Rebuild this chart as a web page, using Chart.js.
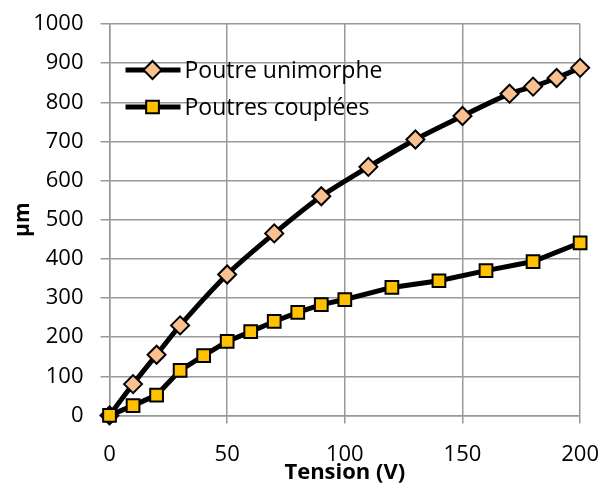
<!DOCTYPE html>
<html>
<head>
<meta charset="utf-8">
<script src="https://cdn.jsdelivr.net/npm/chart.js@4"></script>
<style>
  html, body { margin: 0; padding: 0; background: #fff; }
  #wrap { width: 602px; height: 486px; }
</style>
</head>
<body>
<div id="wrap"><canvas id="graphique"></canvas></div>
<script>
// Données
const tensionUni = [0, 10, 20, 30, 50, 70, 90, 110, 130, 150, 170, 180, 190, 200]
const unimorphe = [0, 80, 155, 230, 360, 465, 560, 635, 705, 765, 822, 840, 862, 888]

const tensionCpl = [0, 10, 20, 30, 40, 50, 60, 70, 80, 90, 100, 120, 140, 160, 180, 200]
const couplees = [0, 25, 52, 115, 153, 189, 214, 240, 263, 283, 296, 327, 344, 370, 393, 441]

const nomsSeries = ['Poutre unimorphe', 'Poutres couplées']

Chart.defaults.font.family = "'Open Sans', sans-serif"
Chart.defaults.font.size = 22
Chart.defaults.color = '#000'

const points = (xs, ys) => xs.map((x, i) => ({ x, y: ys[i] }))

// légende dessinée dans la zone du graphique
const legendeInterne = {
  id: 'legendeInterne',
  afterDatasetsDraw(chart) {
    const ctx = chart.ctx
    const area = chart.chartArea
    const ordre = [1, 0]
    ordre.forEach((idx, row) => {
      const ds = chart.data.datasets[idx]
      const y = area.top + 46 + row * 37
      const x0 = area.left + 16
      ctx.save()
      ctx.strokeStyle = '#000'
      ctx.lineWidth = 5
      ctx.beginPath()
      ctx.moveTo(x0, y)
      ctx.lineTo(x0 + 55, y)
      ctx.stroke()
      ctx.fillStyle = ds.pointBackgroundColor
      ctx.strokeStyle = '#000'
      ctx.lineWidth = ds.pointBorderWidth
      Chart.helpers.drawPoint(ctx, { pointStyle: ds.pointStyle, radius: ds.pointRadius, borderWidth: ds.pointBorderWidth }, x0 + 27, y)
      ctx.fillStyle = '#000'
      ctx.font = "23px 'Open Sans', sans-serif"
      ctx.textBaseline = 'middle'
      ctx.fillText(ds.label, x0 + 59, y + 1)
      ctx.restore()
    })
  }
}

const ctx = document.getElementById('graphique')

new Chart(ctx, {
  type: 'scatter',
  data: {
    datasets: [
      {
        label: nomsSeries[1],
        data: points(tensionCpl, couplees),
        showLine: true,
        clip: false,
        borderColor: '#000',
        borderWidth: 5,
        pointStyle: 'rect',
        pointRadius: 9,
        pointHoverRadius: 9,
        pointBackgroundColor: '#FFC000',
        pointBorderColor: '#000',
        pointBorderWidth: 2
      },
      {
        label: nomsSeries[0],
        data: points(tensionUni, unimorphe),
        showLine: true,
        clip: false,
        borderColor: '#000',
        borderWidth: 5,
        tension: 0.2,
        pointStyle: 'rectRot',
        pointRadius: 9,
        pointHoverRadius: 9,
        pointBackgroundColor: '#FAC090',
        pointBorderColor: '#000',
        pointBorderWidth: 2
      }
    ]
  },
  options: {
    responsive: true,
    maintainAspectRatio: false,
    animation: false,
    layout: { padding: { top: 24, right: 0, left: 0, bottom: 0 } },
    plugins: {
      legend: { display: false },
      tooltip: { enabled: false }
    },
    scales: {
      x: {
        type: 'linear',
        min: 0,
        max: 200,
        ticks: { stepSize: 50, padding: 3, font: { lineHeight: 2.6 } },
        grid: { color: '#999', lineWidth: 1.5, tickLength: 8 },
        border: { color: '#999', width: 1.5 },
        title: {
          display: true,
          text: 'Tension (V)',
          font: { size: 22, weight: 'bold' },
          padding: { top: -27, bottom: 0 }
        }
      },
      y: {
        min: 0,
        max: 1000,
        ticks: { stepSize: 100, padding: 17, font: { lineHeight: 0.6 }, callback: v => String(v) },
        grid: { color: '#999', lineWidth: 1.5, tickLength: 9 },
        border: { color: '#999', width: 1.5 },
        title: {
          display: true,
          text: 'µm',
          font: { size: 21, weight: 'bold' },
          padding: { top: 10, bottom: -19 }
        }
      }
    }
  },
  plugins: [legendeInterne]
})
</script>
</body>
</html>
